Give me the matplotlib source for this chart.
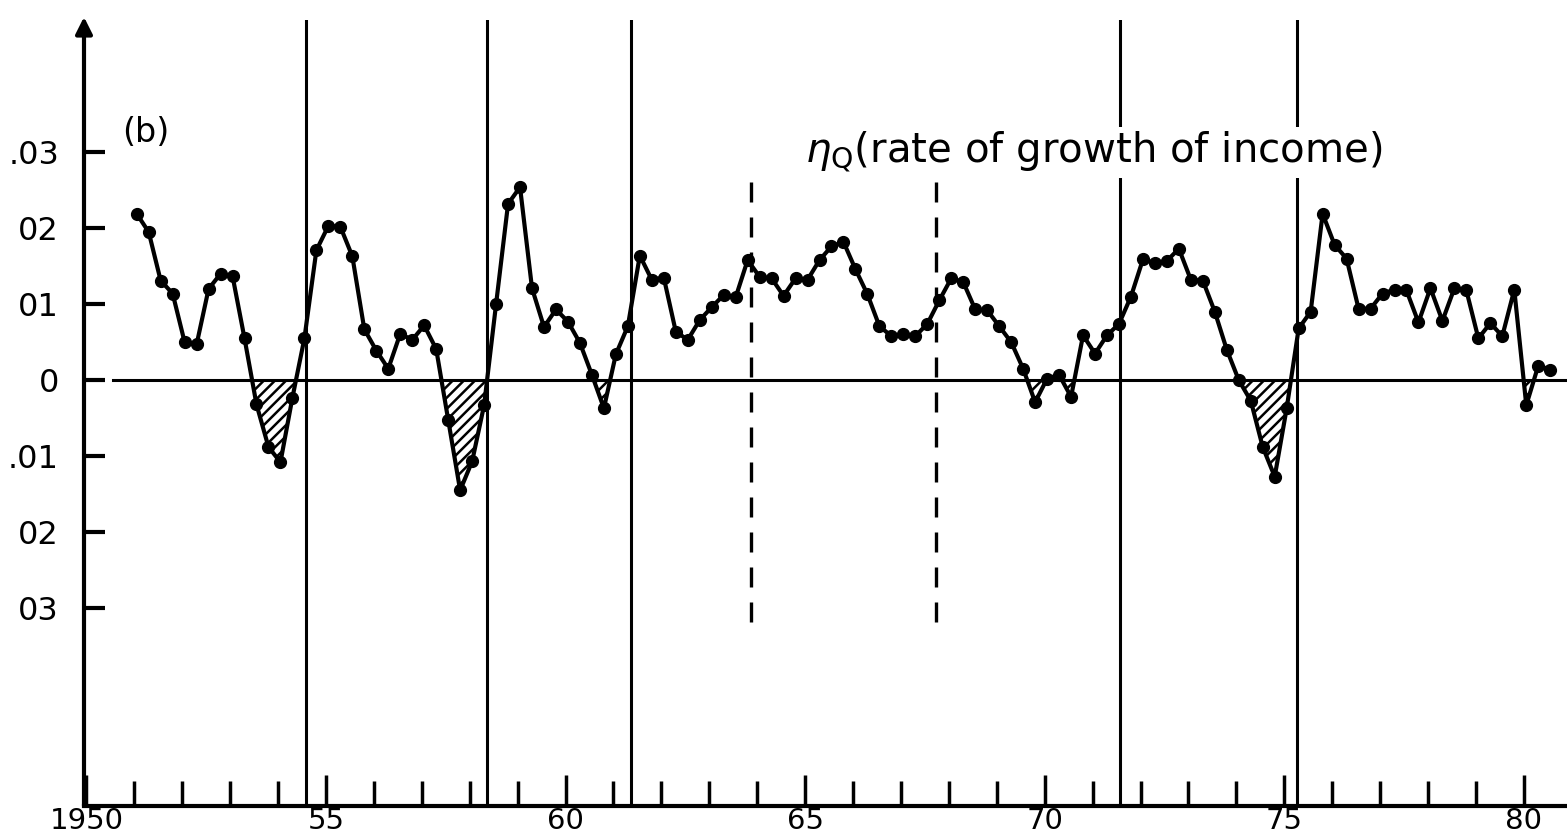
import numpy as np
import matplotlib
matplotlib.use("Agg")
import matplotlib.pyplot as plt

plt.rcParams["font.family"] = ["DejaVu Sans"]
plt.rcParams["hatch.linewidth"] = 1.8

# quarterly rate of growth of income
growth = [
    0.0219, 0.0195, 0.0131, 0.0114, 0.0050, 0.0047, 0.0120, 0.0140, 0.0137, 0.0055,
    -0.0032, -0.0088, -0.0108, -0.0023, 0.0055, 0.0171, 0.0203, 0.0202, 0.0163, 0.0067,
    0.0039, 0.0015, 0.0061, 0.0053, 0.0072, 0.0041, -0.0052, -0.0145, -0.0107, -0.0033,
    0.0100, 0.0232, 0.0254, 0.0121, 0.0070, 0.0093, 0.0077, 0.0049, 0.0007, -0.0037,
    0.0034, 0.0071, 0.0164, 0.0132, 0.0135, 0.0064, 0.0053, 0.0079, 0.0096, 0.0112,
    0.0109, 0.0158, 0.0136, 0.0134, 0.0111, 0.0134, 0.0132, 0.0158, 0.0176, 0.0182,
    0.0146, 0.0113, 0.0071, 0.0058, 0.0061, 0.0058, 0.0074, 0.0105, 0.0134, 0.0129,
    0.0093, 0.0092, 0.0071, 0.0050, 0.0015, -0.0029, 0.0002, 0.0007, -0.0022, 0.0059,
    0.0035, 0.0059, 0.0074, 0.0110, 0.0159, 0.0154, 0.0157, 0.0173, 0.0132, 0.0131,
    0.0090, 0.0040, 0.0000, -0.0027, -0.0088, -0.0127, -0.0037, 0.0068, 0.0090, 0.0219,
    0.0178, 0.0160, 0.0094, 0.0094, 0.0114, 0.0119, 0.0118, 0.0076, 0.0121, 0.0078,
    0.0121, 0.0118, 0.0055, 0.0075, 0.0058, 0.0119, -0.0033, 0.0019, 0.0014,
]
first_quarter = 1951.05
years = first_quarter + 0.25 * np.arange(len(growth))
growth = np.array(growth)

cycle_lines = [1954.59, 1958.37, 1961.36, 1971.57, 1975.27]
dashed_lines = [1963.86, 1967.74]

yticks = [0.03, 0.02, 0.01, 0.0, -0.01, -0.02, -0.03]
ytick_labels = [".03", "02", "01", "0", ".01", "02", "03"]
xticks = [1950, 1955, 1960, 1965, 1970, 1975, 1980]
xtick_labels = ["1950", "55", "60", "65", "70", "75", "80"]

fig = plt.figure(figsize=(15.67, 8.40), dpi=100)
ax = fig.add_axes([84 / 1567, 34 / 840, 1 - 84 / 1567, (806 - 20) / 840])

ax.set_xlim(1949.95, 1980.9)
ax.set_ylim(-0.05605, 0.0474)

# recession / expansion markers
for x in cycle_lines:
    ax.axvline(x, color="black", lw=2.2, zorder=1)
for x in dashed_lines:
    ax.plot([x, x], [-0.0318, 0.0264], color="black", lw=2.4,
            dashes=(6, 4.5), zorder=1)

# zero line
ax.plot([1950.55, 1980.9], [0, 0], color="black", lw=2.2, zorder=1)

# hatched negative growth
ax.fill_between(years, growth, 0, where=growth < 0, interpolate=True,
                facecolor="none", edgecolor="black", hatch="///",
                linewidth=0, zorder=2)

ax.plot(years, growth, color="black", lw=3, marker="o", markersize=8.5,
        zorder=3)

ax.text(1950.74, 0.0313, "(b)", fontsize=24, ha="left", va="baseline")
ax.text(1964.99, 0.0286, r"$\eta_\mathrm{Q}$(rate of growth of income)",
        fontsize=29, ha="left", va="baseline",
        bbox=dict(facecolor="white", edgecolor="none", pad=2), zorder=4)

# axes: arrowed y axis, ticks inward
for side in ["top", "right", "left"]:
    ax.spines[side].set_visible(False)
ax.spines["bottom"].set_linewidth(3)
ax.annotate("", xy=(1949.95, 0.0478), xytext=(1949.95, -0.05605),
            arrowprops=dict(arrowstyle="-|>", color="black", lw=3,
                            mutation_scale=25, shrinkA=0, shrinkB=0),
            annotation_clip=False)

ax.set_yticks(yticks)
ax.set_yticklabels(ytick_labels)
ax.set_xticks(xticks)
ax.set_xticklabels(xtick_labels)
ax.set_xticks(np.arange(1951, 1981), minor=True)

ax.tick_params(axis="y", direction="in", length=15, width=3, pad=18,
               labelsize=23)
ax.tick_params(axis="x", which="major", direction="in", length=22, width=2.5,
               pad=1, labelsize=21)
ax.tick_params(axis="x", which="minor", direction="in", length=18, width=2.5)

fig.savefig("out.png", dpi=100)
